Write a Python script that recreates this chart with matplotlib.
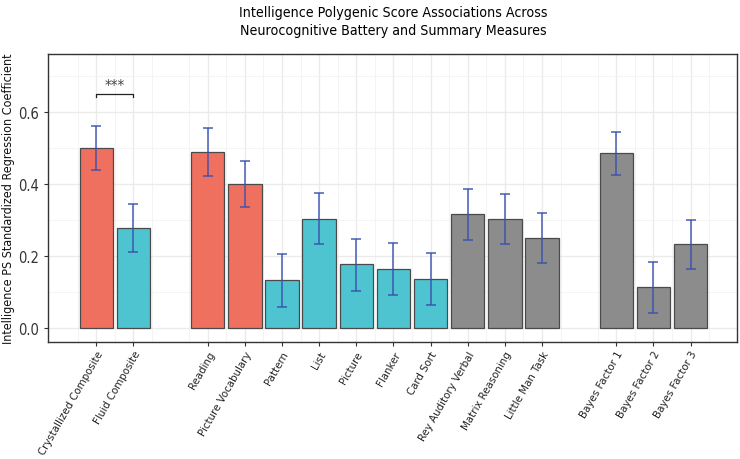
"""Intelligence PGS associations across neurocognitive measures (bar + CI)."""

import matplotlib

matplotlib.use("Agg")
import matplotlib.pyplot as plt  # noqa: E402
from matplotlib.ticker import FormatStrFormatter, MultipleLocator  # noqa: E402

plt.rcParams["font.family"] = ["DejaVu Sans"]
plt.rcParams["font.stretch"] = "condensed"

# Discrete slots; None marks an empty spacer slot on the axis.
labels = [
    "Crystallized Composite", "Fluid Composite", None,
    "Reading", "Picture Vocabulary", "Pattern", "List", "Picture",
    "Flanker", "Card Sort", "Rey Auditory Verbal", "Matrix Reasoning",
    "Little Man Task", None,
    "Bayes Factor 1", "Bayes Factor 2", "Bayes Factor 3",
]
groups = [
    "cryst", "fluid", None,
    "cryst", "cryst", "fluid", "fluid", "fluid",
    "fluid", "fluid", "other", "other",
    "other", None,
    "other", "other", "other",
]
beta = [
    0.500, 0.277, None,
    0.488, 0.399, 0.132, 0.304, 0.177,
    0.163, 0.136, 0.316, 0.302,
    0.249, None,
    0.485, 0.113, 0.232,
]
ci_low = [
    0.438, 0.210, None,
    0.421, 0.337, 0.059, 0.234, 0.104,
    0.091, 0.065, 0.245, 0.232,
    0.180, None,
    0.425, 0.042, 0.163,
]
ci_high = [
    0.562, 0.344, None,
    0.556, 0.463, 0.205, 0.374, 0.248,
    0.236, 0.207, 0.386, 0.371,
    0.320, None,
    0.545, 0.182, 0.301,
]

_COLORS = {"cryst": "#F07060", "fluid": "#4DC4D0", "other": "#8C8C8C"}

fig = plt.figure(figsize=(7.4, 4.6), dpi=100)
ax = fig.add_axes([48 / 740, 1 - 343 / 460, (737 - 48) / 740, (343 - 55) / 460])

idx = [i for i, b in enumerate(beta) if b is not None]
xs = idx
ys = [beta[i] for i in idx]
cols = [_COLORS[groups[i]] for i in idx]
ax.bar(xs, ys, width=0.9, color=cols, edgecolor="#4a4a4a", linewidth=0.9, zorder=2)

lo = [beta[i] - ci_low[i] for i in idx]
hi = [ci_high[i] - beta[i] for i in idx]
ax.errorbar(xs, ys, yerr=[lo, hi], fmt="none", ecolor="#3A50B0", elinewidth=1.2,
            capsize=3.7, capthick=1.2, alpha=0.85, zorder=3)

# Significance bracket between the two composites
y_br = 0.65
ax.plot([0, 0, 1, 1], [y_br - 0.008, y_br, y_br, y_br - 0.008], color="#222222",
        linewidth=0.9, zorder=3)
ax.text(0.5, y_br + 0.004, "***", ha="center", va="bottom", fontsize=11, color="#444444")

ax.set_xlim(-1.3, len(labels) - 1 + 1.25)
ax.set_ylim(-0.039, 0.761)
ax.set_xticks(idx)
ax.set_xticklabels([labels[i] for i in idx], rotation=60, ha="right",
                   rotation_mode="anchor", fontsize=8.2, color="#222222")
ax.set_xticks([i + 0.5 for i in range(-1, len(labels))], minor=True)
ax.yaxis.set_major_locator(MultipleLocator(0.2))
ax.yaxis.set_minor_locator(MultipleLocator(0.1))
ax.yaxis.set_major_formatter(FormatStrFormatter("%.1f"))
ax.tick_params(axis="y", labelsize=10.5, labelcolor="#333333", length=3, color="#333333")
ax.tick_params(axis="x", length=3, pad=2, color="#333333")
ax.tick_params(which="minor", length=0)

ax.grid(True, which="major", color="#EBEBEB", linewidth=1.0, zorder=0)
ax.grid(True, which="minor", color="#F2F2F2", linewidth=0.6, zorder=0)
ax.set_axisbelow(True)
for s in ax.spines.values():
    s.set_color("#333333")
    s.set_linewidth(1.0)

ax.set_ylabel("Intelligence PS Standardized Regression Coefficient", fontsize=9,
              color="#111111")
ax.yaxis.set_label_coords(-0.048, 0.5)
fig.text(393 / 740, 1 - 22 / 460,
         "Intelligence Polygenic Score Associations Across\nNeurocognitive Battery and Summary Measures",
         ha="center", va="center", fontsize=10.2, linespacing=1.45)

fig.savefig("out.png", dpi=100)
